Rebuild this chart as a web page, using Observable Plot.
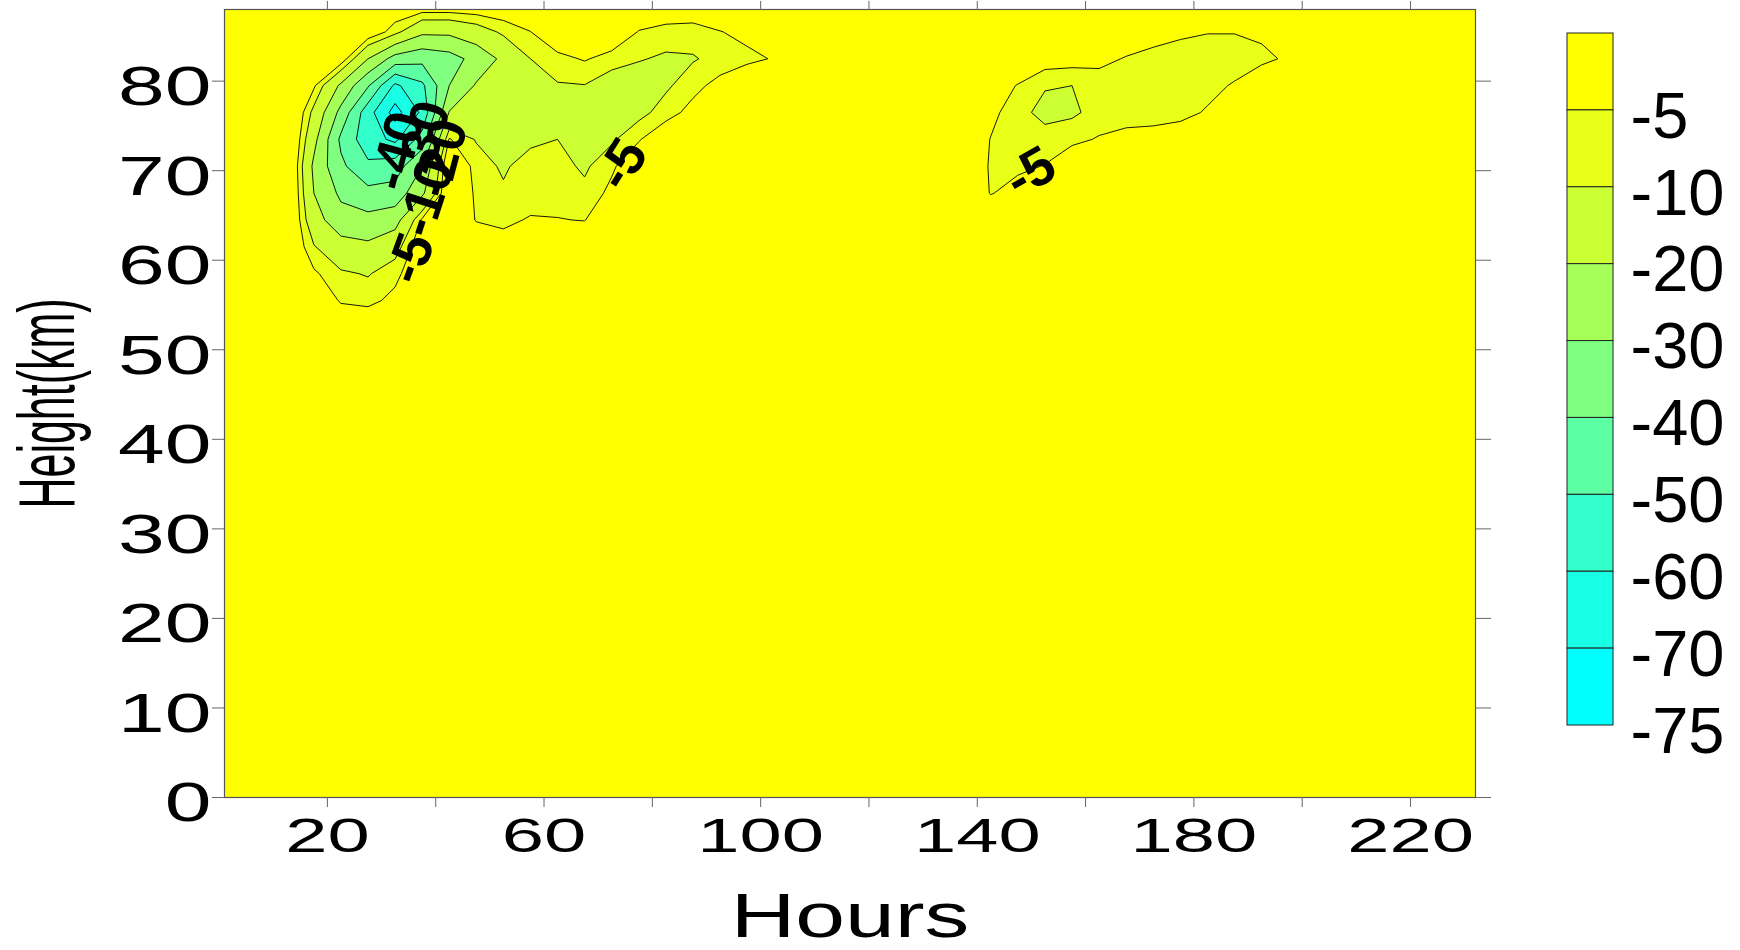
<!DOCTYPE html>
<html>
<head>
<meta charset="utf-8">
<script src="https://cdn.jsdelivr.net/npm/d3@7"></script>
<script src="https://cdn.jsdelivr.net/npm/@observablehq/plot@0.6"></script>
<style>
  html, body { margin: 0; padding: 0; background: #ffffff; }
  #wrap { position: relative; width: 1740px; height: 950px; overflow: hidden;
          font-family: "Liberation Sans", Arial, Helvetica, sans-serif; }
  #wrap svg { position: absolute; top: 0; }
</style>
</head>
<body>
<div id="wrap"></div>
<script>
// ---------------- data ----------------
// contour levels and band colours (lowest level first)
const levels = [-75, -70, -60, -50, -40, -30, -20, -10, -5];
const bandColors = ["#00ffff", "#19ffe6", "#33ffcc", "#5cffa3", "#80ff80", "#a6ff59", "#ccff33", "#e8ff17", "#ffff00"];

// axes
const xTicks = [20, 40, 60, 80, 100, 120, 140, 160, 180, 200, 220];
const xTickLabels = [20, 60, 100, 140, 180, 220];
const yTicks = [0, 10, 20, 30, 40, 50, 60, 70, 80];

// colour bar (top to bottom)
const legendColors = ["#ffff00", "#e8ff17", "#ccff33", "#a6ff59", "#80ff80", "#5cffa3", "#33ffcc", "#19ffe6", "#00ffff"];
const legendLabels = ["-5", "-10", "-20", "-30", "-40", "-50", "-60", "-70", "-75"];

// gridded field: hours columns (left patch and right patch) and height rows (km)
const leftHours  = [12.5, 17.5, 22.5, 27.5, 32.5, 37.5, 42.5, 47.5, 52.5, 57.5, 62.5, 67.5, 72.5, 77.5, 82.5, 87.5, 92.5, 97.5, 102.5, 107.5];
const rightHours = [137.5, 142.5, 147.5, 152.5, 157.5, 162.5, 167.5, 172.5, 177.5, 182.5, 187.5, 192.5, 197.5, 202.5];

const leftRow85 = [0, 0, 0, 0, -7.8, -18, -18, -14, -8.7, -5.1, 0, 0, 0, -5.3, -7, -7.5, -5.2, -3.5, 0, 0];
const leftRow82 = [0, 0, -1, -20, -34, -37, -34, -26.7, -17.8, -10, -6.6, -4.5, -7.1, -9.5, -11, -10.5, -8.2, -6.3, -4.6, 0];
const leftRow79 = [0, -4, -21.8, -39, -62, -52, -30, -19, -17, -14, -10.5, -10.2, -14, -14, -11, -6.8, -3, 0, 0, 0];
const leftRow76 = [6, -12, -33, -56, -74, -58, -19.5, -16, -15, -15, -15, -14, -14, -12, -7.4, -3, 0, 0, 0, 0];
const leftRow73 = [6, -17, -42, -56, -62, -46, -4.5, -10.5, -13, -11.5, -10, -12, -11, -5.5, 0, 0, 0, 0, 0, 0];
const leftRow70 = [6, -22, -38, -48, -45, -30, 2, -7, -11, -7, -8, -11, -6, 0, 0, 0, 0, 0, 0, 0];
const leftRow67 = [6, -20, -32, -37, -36, -22, 2, -6, -9, -7, -7, -8.5, -3.5, 0, 0, 0, 0, 0, 0, 0];
const leftRow64 = [5, -16, -26, -27, -24, -4, 0, -5.3, -6, -4.6, -4.8, -5.2, 0, 0, 0, 0, 0, 0, 0, 0];
const leftRow61 = [3, -9.5, -16, -18, -13, 0, 0, -1, -3, 0, 0, 0, 0, 0, 0, 0, 0, 0, 0, 0];
const leftRow58 = [0, -4, -9, -10.5, -6.5, 0, 0, 0, 0, 0, 0, 0, 0, 0, 0, 0, 0, 0, 0, 0];
const leftRow55 = [0, 0, -5.6, -6.5, -3.5, 0, 0, 0, 0, 0, 0, 0, 0, 0, 0, 0, 0, 0, 0, 0];

const rightRow85 = [0, 0, 0, 0, 0, 0, 0, -3, -4.2, -4.8, -4.8, -3.8, 0, 0];
const rightRow82 = [0, 0, 0, -2, -2.5, -3, -5.5, -6.5, -7, -7.5, -7.5, -6.5, -4, 0];
const rightRow79 = [0, -2, -5.3, -9.5, -10, -8.5, -7.5, -7.5, -7, -6.5, -4.5, 0, 0, 0];
const rightRow76 = [0, -3.5, -8, -12, -11, -8, -7, -7, -6.5, -4.5, 0, 0, 0, 0];
const rightRow73 = [0, -5.2, -7, -7.5, -6.5, -4.5, -3.5, -3, -2, 0, 0, 0, 0, 0];
const rightRow70 = [0, -5.6, -6, -4.8, 0, 0, 0, 0, 0, 0, 0, 0, 0, 0];
const rightRow67 = [0, -5.3, -3, 0, 0, 0, 0, 0, 0, 0, 0, 0, 0, 0];

const leftRows  = [[85.5, leftRow85], [82.5, leftRow82], [79.5, leftRow79], [76.5, leftRow76], [73.5, leftRow73],
                   [70.5, leftRow70], [67.5, leftRow67], [64.5, leftRow64], [61.5, leftRow61], [58.5, leftRow58], [55.5, leftRow55]];
const rightRows = [[85.5, rightRow85], [82.5, rightRow82], [79.5, rightRow79], [76.5, rightRow76],
                   [73.5, rightRow73], [70.5, rightRow70], [67.5, rightRow67]];

// in-line contour labels
const labelText    = ["-5", "-10", "-20", "-30", "-40", "-5", "-5"];
const labelHours   = [35.4, 38.3, 41.0, 37.8, 33.0, 74.4, 149.8];
const labelHeights = [60.2, 67.0, 71.4, 73.4, 72.2, 70.7, 69.8];
const labelAngles  = [-70, -72, -75, -75, -75, -58, -30];

// ---------------- build the grid (5 h x 3 km cells, rows from the bottom) ----------------
// the grid reaches a little beyond the frame on every side, so its edges are clipped away
const nx = 50, ny = 32;            // covers -5..245 h and -3..93 km
const values = new Array(nx * ny).fill(0);
function put(hours, rows) {
  for (const [km, row] of rows) {
    const r = Math.round((km + 1.5) / 3);
    hours.forEach((h, j) => { values[r * nx + Math.round((h + 2.5) / 5)] = row[j]; });
  }
}
put(leftHours, leftRows);
put(rightHours, rightRows);

const font = "'Liberation Sans', Arial, Helvetica, sans-serif";
const wrap = document.getElementById("wrap");

const chart = Plot.plot({
  width: 1740, height: 950,
  marginTop: 9, marginBottom: 153, marginLeft: 224, marginRight: 265,
  style: {fontFamily: font, background: "transparent", overflow: "visible"},
  x: {domain: [1, 232]},
  y: {domain: [0, 88]},
  color: {type: "ordinal", domain: levels, range: bandColors},
  marks: [
    Plot.frame({fill: bandColors[0]}),
    Plot.contour(values, {
      width: nx, height: ny, x1: -5, x2: 245, y1: -3, y2: 93,
      fill: Plot.identity, thresholds: levels,
      stroke: "#000", strokeWidth: 0.9, clip: true
    }),
    Plot.text(labelText, {
      x: (d, i) => labelHours[i], y: (d, i) => labelHeights[i], text: d => d,
      rotate: (d, i) => labelAngles[i], fontSize: 54, fontWeight: "bold", fill: "#000"
    }),
    Plot.frame({stroke: "#555", strokeWidth: 1.2}),
    Plot.axisX({anchor: "bottom", ticks: xTicks, tickSize: 10, tickFormat: () => "", label: null, stroke: "#666"}),
    Plot.axisX({anchor: "top", ticks: xTicks, tickSize: 9, tickFormat: () => "", label: null, stroke: "#666"}),
    Plot.axisY({anchor: "left", ticks: yTicks, tickSize: 12, tickFormat: () => "", label: null, stroke: "#666"}),
    Plot.axisY({anchor: "right", ticks: yTicks, tickSize: 15, tickFormat: () => "", label: null, stroke: "#666"}),
    Plot.text(xTickLabels, {x: d => d, text: d => String(d), frameAnchor: "bottom", lineAnchor: "top",
      dy: 20, fontSize: 49, fill: "#000"}),
    Plot.text(yTicks, {y: d => d, text: d => String(d), frameAnchor: "left", textAnchor: "end",
      dx: -13, dy: 6, fontSize: 56, fill: "#000"}),
    Plot.text(["Hours"], {frameAnchor: "bottom", lineAnchor: "bottom", dy: 139, fontSize: 63, fill: "#000"}),
    Plot.text(["Height(km)"], {frameAnchor: "left", rotate: -90, lineAnchor: "bottom", textAnchor: "start",
      dx: -151, dy: 105, fontSize: 80, fill: "#000"})
  ]
});
chart.style.left = "0px";
wrap.appendChild(chart);

// horizontally widened (or narrowed) lettering, as in the original export
const widen = {49: 1.55, 56: 1.5, 63: 1.42};
chart.querySelectorAll("text").forEach(t => {
  const fs = Math.round(parseFloat(getComputedStyle(t).fontSize));
  const L = t.getComputedTextLength();
  if (!(L > 0)) return;
  if (widen[fs]) {
    t.setAttribute("textLength", (L * widen[fs]).toFixed(1));
    t.setAttribute("lengthAdjust", "spacingAndGlyphs");
  } else if (fs === 80) {
    t.setAttribute("textLength", "210");
    t.setAttribute("lengthAdjust", "spacingAndGlyphs");
  }
});

// colour bar legend
const legend = Plot.plot({
  width: 200, height: 950, margin: 0,
  style: {fontFamily: font, background: "transparent", overflow: "visible"},
  x: {domain: [0, 1], range: [27, 73], axis: null},
  y: {domain: [0, 9], range: [33, 725], axis: null},
  color: {type: "identity"},
  marks: [
    Plot.rect(legendColors, {x1: 0, x2: 1, y1: (d, i) => i, y2: (d, i) => i + 1, fill: d => d, stroke: "#222", strokeWidth: 1}),
    Plot.text(legendLabels, {x: 1, y: (d, i) => i + 1, text: d => d, dx: 17, dy: 6.5, textAnchor: "start",
      fontSize: 65, fill: "#000"})
  ]
});
legend.style.left = "1540px";
wrap.appendChild(legend);
</script>
</body>
</html>
